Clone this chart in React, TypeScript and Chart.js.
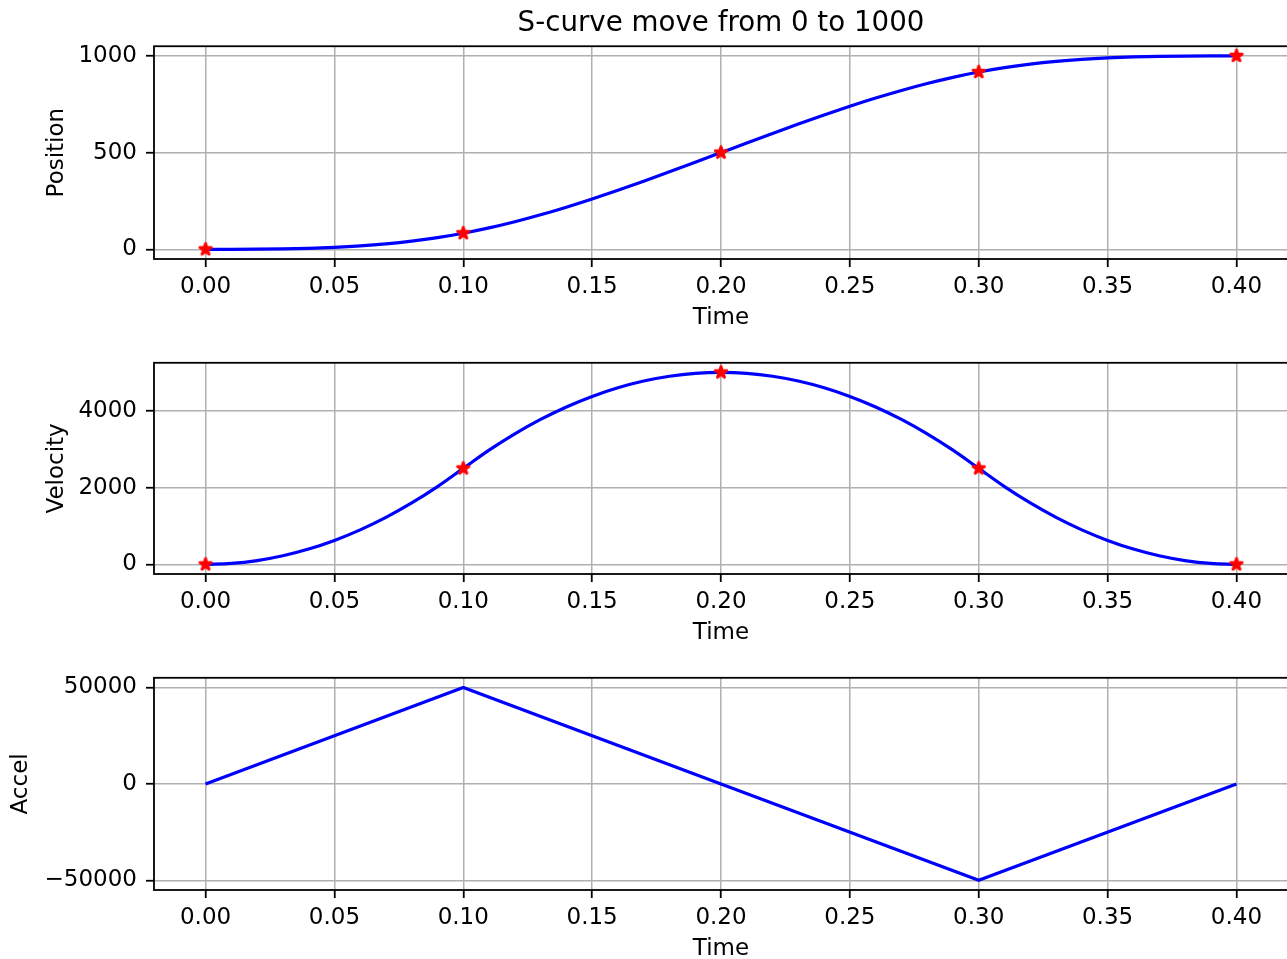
import React, { useEffect, useRef } from "react";
import { Chart, registerables } from "chart.js";

Chart.register(...registerables);

// ---- data ----
const TIME = [
  0, 0.01, 0.02, 0.03, 0.04, 0.05, 0.06, 0.07, 0.08, 0.09,
  0.1, 0.11, 0.12, 0.13, 0.14, 0.15, 0.16, 0.17, 0.18, 0.19,
  0.2, 0.21, 0.22, 0.23, 0.24, 0.25, 0.26, 0.27, 0.28, 0.29,
  0.3, 0.31, 0.32, 0.33, 0.34, 0.35, 0.36, 0.37, 0.38, 0.39, 0.4,
];
const POSITION = [
  0, 0.08, 0.67, 2.25, 5.33, 10.42, 18.0, 28.58, 42.67, 60.75,
  83.33, 110.75, 142.67, 178.58, 218.0, 260.42, 305.33, 352.25, 400.67, 450.08,
  500.0, 549.92, 599.33, 647.75, 694.67, 739.58, 782.0, 821.42, 857.33, 889.25,
  916.67, 939.25, 957.33, 971.42, 982.0, 989.58, 994.67, 997.75, 999.33, 999.92, 1000,
];
const VELOCITY = [
  0, 25, 100, 225, 400, 625, 900, 1225, 1600, 2025,
  2500, 2975, 3400, 3775, 4100, 4375, 4600, 4775, 4900, 4975,
  5000, 4975, 4900, 4775, 4600, 4375, 4100, 3775, 3400, 2975,
  2500, 2025, 1600, 1225, 900, 625, 400, 225, 100, 25, 0,
];
const ACCEL_TIME = [0, 0.1, 0.2, 0.3, 0.4];
const ACCEL = [0, 50000, 0, -50000, 0];

const MARKER_TIME = [0, 0.1, 0.2, 0.3, 0.4];
const POSITION_MARKERS = [0, 83.33, 500, 916.67, 1000];
const VELOCITY_MARKERS = [0, 2500, 5000, 2500, 0];

const X_TICKS = [0, 0.05, 0.1, 0.15, 0.2, 0.25, 0.3, 0.35, 0.4];
const POSITION_TICKS = [0, 500, 1000];
const VELOCITY_TICKS = [0, 2000, 4000];
const ACCEL_TICKS = [-50000, 0, 50000];

const TITLE = "S-curve move from 0 to 1000";

// ---- styling ----
const FONT = "'DejaVu Sans', 'Liberation Sans', sans-serif";
const TICK_SIZE = 23;
const TITLE_SIZE = 27.7;
const CANVAS_W = 1292;

function makeStar(): HTMLCanvasElement {
  const c = document.createElement("canvas");
  const s = 22;
  c.width = s;
  c.height = s;
  const ctx = c.getContext("2d")!;
  const R = 6.9;
  const r = R * 0.381966;
  const cx = s / 2;
  const cy = s / 2;
  ctx.beginPath();
  for (let i = 0; i < 10; i++) {
    const rad = i % 2 === 0 ? R : r;
    const a = -Math.PI / 2 + (i * Math.PI) / 5;
    const px = cx + rad * Math.cos(a);
    const py = cy + rad * Math.sin(a);
    if (i === 0) ctx.moveTo(px, py);
    else ctx.lineTo(px, py);
  }
  ctx.closePath();
  ctx.fillStyle = "#ff0000";
  ctx.fill();
  ctx.strokeStyle = "#ff0000";
  ctx.lineWidth = 2.2;
  ctx.lineJoin = "bevel";
  ctx.stroke();
  return c;
}

const framePlugin = {
  id: "frame",
  afterDraw(chart: any) {
    const { ctx, chartArea } = chart;
    ctx.save();
    ctx.strokeStyle = "#000";
    ctx.lineWidth = 1.8;
    ctx.strokeRect(chartArea.left, chartArea.top, chartArea.right - chartArea.left, chartArea.bottom - chartArea.top);
    ctx.restore();
  },
};

const fmtInt = (v: number) => {
  const s = Math.round(v).toString();
  return s.replace("-", "\u2212");
};

interface PanelSpec {
  lineX: number[];
  lineY: number[];
  markX?: number[];
  markY?: number[];
  yMin: number;
  yMax: number;
  yTicks: number[];
  yLabel: string;
  yLabelPad: number;
  title?: string;
  padTop: number;
  smooth: boolean;
}

function buildConfig(p: PanelSpec, star: HTMLCanvasElement): any {
  const datasets: any[] = [];
  if (p.markX && p.markY) {
    datasets.push({
      data: p.markX.map((x, i) => ({ x, y: p.markY![i] })),
      showLine: false,
      pointStyle: star,
      pointRadius: 4,
      order: 0,
    });
  }
  datasets.push({
    data: p.lineX.map((x, i) => ({ x, y: p.lineY[i] })),
    borderColor: "#0000ff",
    borderWidth: 3.2,
    pointRadius: 0,
    cubicInterpolationMode: p.smooth ? "monotone" : "default",
    tension: 0,
    fill: false,
    order: 1,
  });
  const tickFont = { family: FONT, size: TICK_SIZE };
  return {
    type: "line",
    data: { datasets },
    options: {
      animation: false,
      responsive: false,
      devicePixelRatio: 1,
      layout: { autoPadding: false, padding: { top: p.padTop, left: 0, right: 4, bottom: 0 } },
      plugins: {
        legend: { display: false },
        tooltip: { enabled: false },
        title: p.title
          ? {
              display: true,
              text: p.title,
              fullSize: false,
              color: "#000",
              font: { family: FONT, size: TITLE_SIZE, weight: "normal" },
              padding: { top: 7, bottom: 6 },
            }
          : { display: false },
      },
      scales: {
        x: {
          type: "linear",
          min: -0.02,
          max: 0.42,
          afterBuildTicks: (s: any) => {
            s.ticks = X_TICKS.map((v) => ({ value: v }));
          },
          afterFit: (s: any) => {
            s.height = 81;
          },
          ticks: {
            font: tickFont,
            color: "#000",
            padding: 6,
            autoSkip: false,
            maxRotation: 0,
            callback: (v: number) => Number(v).toFixed(2),
          },
          grid: { color: "#b0b0b0", lineWidth: 1.5, tickColor: "#000", tickWidth: 1.8, tickLength: 8 },
          border: { display: false },
          title: {
            display: true,
            text: "Time",
            color: "#000",
            font: tickFont,
            padding: { top: 0, bottom: 8 },
          },
        },
        y: {
          type: "linear",
          min: p.yMin,
          max: p.yMax,
          afterBuildTicks: (s: any) => {
            s.ticks = p.yTicks.map((v) => ({ value: v }));
          },
          afterFit: (s: any) => {
            s.width = 154;
          },
          ticks: {
            font: tickFont,
            color: "#000",
            padding: 9,
            autoSkip: false,
            callback: (v: number) => fmtInt(Number(v)),
          },
          grid: { color: "#b0b0b0", lineWidth: 1.5, tickColor: "#000", tickWidth: 1.8, tickLength: 8 },
          border: { display: false },
          title: {
            display: true,
            text: p.yLabel,
            color: "#000",
            font: tickFont,
            padding: { top: p.yLabelPad, bottom: 0 },
          },
        },
      },
    },
    plugins: [framePlugin],
  };
}

export default function App() {
  const r1 = useRef<HTMLCanvasElement>(null);
  const r2 = useRef<HTMLCanvasElement>(null);
  const r3 = useRef<HTMLCanvasElement>(null);

  useEffect(() => {
    const star = makeStar();
    const charts: Chart[] = [];
    charts.push(
      new Chart(
        r1.current!,
        buildConfig(
          {
            lineX: TIME,
            lineY: POSITION,
            markX: MARKER_TIME,
            markY: POSITION_MARKERS,
            yMin: -50,
            yMax: 1050,
            yTicks: POSITION_TICKS,
            yLabel: "Position",
            yLabelPad: 43.7,
            title: TITLE,
            padTop: 0,
            smooth: true,
          },
          star
        )
      )
    );
    charts.push(
      new Chart(
        r2.current!,
        buildConfig(
          {
            lineX: TIME,
            lineY: VELOCITY,
            markX: MARKER_TIME,
            markY: VELOCITY_MARKERS,
            yMin: -250,
            yMax: 5250,
            yTicks: VELOCITY_TICKS,
            yLabel: "Velocity",
            yLabelPad: 43.2,
            padTop: 22,
            smooth: true,
          },
          star
        )
      )
    );
    charts.push(
      new Chart(
        r3.current!,
        buildConfig(
          {
            lineX: ACCEL_TIME,
            lineY: ACCEL,
            yMin: -55000,
            yMax: 55000,
            yTicks: ACCEL_TICKS,
            yLabel: "Accel",
            yLabelPad: 7.5,
            padTop: 22,
            smooth: false,
          },
          star
        )
      )
    );
    return () => charts.forEach((c) => c.destroy());
  }, []);

  return (
    <div
      style={{
        position: "absolute",
        left: 0,
        top: 0,
        width: 1287,
        height: 959,
        overflow: "hidden",
        background: "#fff",
      }}
    >
      <canvas ref={r1} width={CANVAS_W} height={340} style={{ position: "absolute", left: 0, top: 0 }} />
      <canvas ref={r2} width={CANVAS_W} height={315} style={{ position: "absolute", left: 0, top: 340 }} />
      <canvas ref={r3} width={CANVAS_W} height={316} style={{ position: "absolute", left: 0, top: 655 }} />
    </div>
  );
}
